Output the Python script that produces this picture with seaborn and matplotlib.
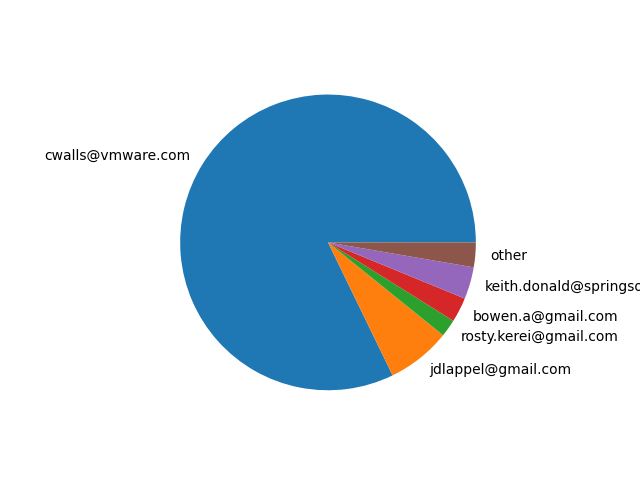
import seaborn as sns
import matplotlib
matplotlib.use("Agg")
import matplotlib.pyplot as plt

authors = ["cwalls@vmware.com", "jdlappel@gmail.com", "rosty.kerei@gmail.com",
           "bowen.a@gmail.com", "keith.donald@springsource.com", "other"]
commits = [822, 70, 19, 27, 35, 27]

colors = sns.color_palette("tab10", len(authors))

fig, ax = plt.subplots(figsize=(6.4, 4.8), dpi=100)
ax.pie(commits, labels=authors, colors=colors)
fig.savefig("out.png")
